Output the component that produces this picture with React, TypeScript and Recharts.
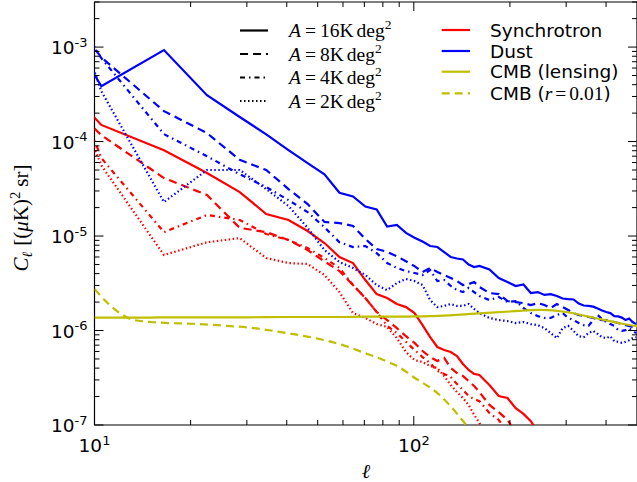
import { LineChart, Line, XAxis, YAxis, ReferenceArea } from 'recharts';

document.body.style.margin = '0';

// multipole bins (first one sits left of the axis and only sets the clipped slope)
const ell = [4.5, 10.5, 16.5, 22.5, 28.5, 34.5, 40.5, 46.5, 52.5, 58.5, 64.5, 70.5, 76.5, 82.5, 88.5, 94.5,
  100.5, 106.5, 112.5, 118.5, 124.5, 130.5, 136.5, 142.5, 148.5, 154.5, 160.5, 172.5, 184.5, 196.5, 208.5,
  220.5, 232.5, 244.5, 256.5, 268.5, 280.5, 292.5, 304.5, 316.5, 328.5, 340.5, 352.5, 364.5, 376.5, 388.5,
  400.5, 412.5, 424.5, 436.5, 448.5, 460.5, 472.5, 484.5, 496.5];

const dust16 = [0.047, 3.86e-4, 9.3e-4, 3.1e-4, 1.82e-4, 1.19e-4, 8.1e-5, 5.9e-5, 4.5e-5, 2.87e-5,
  2.62e-5, 2.05e-5, 1.91e-5, 1.26e-5, 1.31e-5, 1.08e-5, 9.6e-6, 8.75e-6, 7.84e-6, 7.65e-6,
  6.77e-6, 6.0e-6, 5.78e-6, 5.64e-6, 4.99e-6, 4.7e-6, 4.82e-6,
  4.42e-6, 3.6e-6, 3.26e-6, 2.96e-6, 3.07e-6, 2.49e-6, 2.55e-6, 2.38e-6, 2.43e-6, 2.32e-6,
  2.18e-6, 2.15e-6, 2.13e-6, 1.93e-6, 1.84e-6, 1.82e-6, 1.79e-6, 1.71e-6, 1.63e-6, 1.57e-6,
  1.53e-6, 1.42e-6, 1.41e-6, 1.37e-6, 1.29e-6, 1.34e-6, 1.23e-6, 1.17e-6];
const dust8 = [0.031, 7.8e-4, 2.1e-4, 1.23e-4, 6.4e-5, 5.0e-5, 3.14e-5, 2.18e-5, 1.41e-5, 1.37e-5,
  1.28e-5, 9.3e-6, 7.3e-6, 6.8e-6, 6.1e-6, 5.4e-6, 4.8e-6, 4.16e-6, 4.6e-6, 4.16e-6,
  3.87e-6, 3.6e-6, 3.34e-6, 3.03e-6, 3.1e-6, 3.26e-6, 2.89e-6,
  2.49e-6, 2.43e-6, 2.05e-6, 2.0e-6, 1.95e-6, 1.86e-6, 1.95e-6, 1.86e-6, 1.73e-6, 1.91e-6,
  1.77e-6, 1.65e-6, 1.53e-6, 1.46e-6, 1.42e-6, 1.39e-6, 1.36e-6, 1.32e-6, 1.29e-6, 1.29e-6,
  1.26e-6, 1.23e-6, 1.2e-6, 1.17e-6, 1.14e-6, 1.12e-6, 1.09e-6, 1.04e-6];
const dust4 = [0.072, 7.65e-4, 1.2e-4, 7.0e-5, 4.5e-5, 3.3e-5, 2.4e-5, 1.79e-5, 1.24e-5, 8.6e-6,
  7.65e-6, 7.84e-6, 6.6e-6, 5.18e-6, 4.6e-6, 4.26e-6, 4.06e-6, 3.87e-6, 4.37e-6, 3.34e-6,
  3.42e-6, 2.96e-6, 2.68e-6, 2.55e-6, 2.82e-6, 2.55e-6, 2.32e-6,
  2.1e-6, 2.26e-6, 2.0e-6, 2.05e-6, 1.73e-6, 1.53e-6, 1.42e-6, 1.36e-6, 1.36e-6, 1.46e-6,
  1.53e-6, 1.36e-6, 1.29e-6, 1.2e-6, 1.14e-6, 1.12e-6, 1.29e-6, 1.46e-6, 1.32e-6, 1.23e-6,
  1.17e-6, 1.12e-6, 1.01e-6, 9.9e-7, 1.01e-6, 1.06e-6, 9.9e-7, 9.4e-7];
const dust2 = [1.5, 3.42e-4, 2.29e-5, 5.0e-5, 5.0e-5, 3.14e-5, 2.08e-5, 1.22e-5, 7.1e-6, 5.3e-6,
  4.6e-6, 3.87e-6, 3.03e-6, 2.68e-6, 3.18e-6, 3.51e-6, 3.34e-6, 3.03e-6, 2.1e-6, 1.77e-6,
  1.82e-6, 1.91e-6, 1.82e-6, 1.82e-6, 1.91e-6, 1.69e-6, 1.53e-6,
  1.36e-6, 1.29e-6, 1.26e-6, 1.2e-6, 1.23e-6, 1.17e-6, 1.14e-6, 1.06e-6, 9.4e-7, 8.3e-7,
  1.06e-6, 1.12e-6, 9.9e-7, 8.7e-7, 8.5e-7, 9.4e-7, 9.9e-7, 9.2e-7, 8.5e-7, 8.3e-7,
  8.7e-7, 7.7e-7, 7.6e-7, 7.4e-7, 7.6e-7, 7.9e-7, 8.3e-7, 8.5e-7];

const sync16 = [3.2e-3, 1.5e-4, 8.1e-5, 4.64e-5, 2.92e-5, 1.71e-5, 1.48e-5, 1.13e-5, 8.43e-6, 6.0e-6,
  5.18e-6, 3.42e-6, 2.43e-6, 2.21e-6, 1.91e-6, 1.77e-6, 1.53e-6, 1.14e-6, 8.5e-7, 6.69e-7,
  6.22e-7, 5.92e-7, 5.37e-7, 4.42e-7, 3.82e-7, 3.47e-7, 3.38e-7,
  2.65e-7, 2.03e-7, 1.93e-7, 1.51e-7, 1.31e-7, 1.1e-7, 8.4e-8];
const sync8 = [2.0e-3, 1.17e-4, 4.11e-5, 2.72e-5, 1.22e-5, 1.1e-5, 9.07e-6, 7.1e-6, 5.4e-6, 4.26e-6,
  3.03e-6, 2.21e-6, 1.57e-6, 1.29e-6, 1.06e-6, 8.7e-7, 7.4e-7, 6.07e-7, 5.24e-7, 4.76e-7,
  5.12e-7, 4.01e-7, 3.55e-7, 3.3e-7, 2.92e-7, 2.59e-7, 2.23e-7,
  1.63e-7, 1.37e-7, 1.13e-7, 8.4e-8];
const sync4 = [0.13, 6.7e-5, 1.1e-5, 1.67e-5, 1.48e-5, 1.05e-5, 9.07e-6, 7.46e-6, 5.85e-6, 4.6e-6,
  3.03e-6, 2.21e-6, 1.57e-6, 1.12e-6, 9.4e-7, 7.6e-7, 6.22e-7, 5.24e-7, 4.53e-7, 3.73e-7,
  3.47e-7, 3.22e-7, 2.72e-7, 2.35e-7, 2.03e-7, 1.88e-7, 1.79e-7,
  1.34e-7, 1.13e-7, 8.4e-8];
const sync2 = [0.071, 5.6e-5, 6.3e-6, 8.6e-6, 9.5e-6, 5.85e-6, 5.18e-6, 5.06e-6, 3.87e-6, 2.55e-6,
  1.53e-6, 1.36e-6, 1.17e-6, 1.09e-6, 8.3e-7, 5.92e-7, 4.87e-7, 4.64e-7, 4.21e-7, 4.01e-7,
  3.3e-7, 2.65e-7, 2.23e-7, 1.93e-7, 1.63e-7, 1.28e-7, 1.05e-7,
  6.9e-8];

// CMB spectra (smooth, finer sampling)
const cmbEll = [10, 11, 12, 13, 14, 15, 17, 20, 25, 30, 40, 50, 60, 70, 80, 90, 100, 120, 140, 160,
  200, 250, 300, 350, 400, 450, 500];
const cmbLensing = [1.37e-6, 1.37e-6, 1.37e-6, 1.37e-6, 1.37e-6, 1.37e-6, 1.38e-6, 1.38e-6, 1.38e-6, 1.38e-6,
  1.39e-6, 1.39e-6, 1.39e-6, 1.4e-6, 1.4e-6, 1.4e-6, 1.41e-6, 1.43e-6, 1.47e-6, 1.52e-6,
  1.59e-6, 1.65e-6, 1.57e-6, 1.41e-6, 1.28e-6, 1.18e-6, 1.11e-6];
const cmbTensor = [2.75e-6, 1.95e-6, 1.53e-6, 1.32e-6, 1.26e-6, 1.23e-6, 1.2e-6, 1.18e-6, 1.13e-6, 1.08e-6,
  9.4e-7, 8.2e-7, 7.0e-7, 5.8e-7, 4.9e-7, 4.1e-7, 3.2e-7, 2.1e-7, 1.19e-7, 6.5e-8];

const yMajor = [1e-7, 1e-6, 1e-5, 1e-4, 1e-3];
const yMajorLabels = ['-7', '-6', '-5', '-4', '-3'];
const xMajor = [10, 100];
const xMajorLabels = ['1', '2'];
const minorMantissa = [2, 3, 4, 5, 6, 7, 8, 9];

const areaLabels = ['16', '8', '4', '2'];
const styleDash = ['', '8 5', '5 4 1.5 4', '1.5 2.5'];

const yTicks = yMajor.flatMap((m) => [m, ...minorMantissa.map((k) => k * m)]).filter((v) => v <= 3.01e-3);
const xTicks = [...xMajor.flatMap((m) => [m, ...minorMantissa.map((k) => k * m)]).filter((v) => v <= 400)];

const L = 94.5, R = 637, T = 2, B = 425;
const RED = '#ff0000', BLUE = '#0000ff', YEL = '#bfbf00';
const LW = 2.2;

const pairs = (xs: number[], vs: number[]) => vs.map((v, i) => ({ ell: xs[i], v }));

const isMajor = (v: number) => Math.abs(Math.log10(v) - Math.round(Math.log10(v))) < 1e-6;

const YTick = ({ y, payload }: any) => {
  const v = payload.value;
  const major = isMajor(v);
  const len = major ? 9 : 5;
  const idx = yMajor.findIndex((m) => Math.abs(m - v) / m < 1e-6);
  return (
    <g>
      <line x1={L} x2={L + len} y1={y} y2={y} stroke="#000" strokeWidth={1} />
      <line x1={R - len} x2={R} y1={y} y2={y} stroke="#000" strokeWidth={1} />
      {major && (
        <text x={87.5} y={y + 7} textAnchor="end" fontFamily="DejaVu Sans" fontSize={18.5} fill="#000">
          10<tspan dy={-7.5} fontSize={13}>{yMajorLabels[idx]}</tspan>
        </text>
      )}
    </g>
  );
};

const XTick = ({ x, payload }: any) => {
  const v = payload.value;
  const major = isMajor(v);
  const len = major ? 9 : 5;
  const idx = xMajor.indexOf(v);
  return (
    <g>
      <line x1={x} x2={x} y1={B - len} y2={B} stroke="#000" strokeWidth={1} />
      <line x1={x} x2={x} y1={T} y2={T + len} stroke="#000" strokeWidth={1} />
      {major && (
        <text x={x} y={452} textAnchor="middle" fontFamily="DejaVu Sans" fontSize={18.5} fill="#000">
          10<tspan dy={-7} fontSize={13}>{xMajorLabels[idx]}</tspan>
        </text>
      )}
    </g>
  );
};

const line = (key: string, data: any[], color: string, dash: string, smooth = false) => (
  <Line
    key={key}
    data={data}
    dataKey="v"
    type={smooth ? 'monotone' : 'linear'}
    stroke={color}
    strokeWidth={LW}
    strokeDasharray={dash || undefined}
    dot={false}
    activeDot={false}
    isAnimationActive={false}
  />
);

const syncSeries = [sync16, sync8, sync4, sync2];
const dustSeries = [dust16, dust8, dust4, dust2];

const App = () => {
  const rowsA = [30.5, 54, 77.5, 101];
  const rowsB = [30, 51, 71.7, 93.3];
  return (
    <div style={{ position: 'relative', width: 637, height: 482, background: '#fff' }}>
      <LineChart width={637} height={482} margin={{ top: T, right: 0, bottom: 0, left: 0 }}>
        <XAxis
          dataKey="ell"
          type="number"
          scale="log"
          domain={[10, 500]}
          allowDataOverflow
          ticks={xTicks}
          interval={0}
          height={57}
          axisLine={false}
          tickLine={false}
          tick={<XTick />}
        />
        <YAxis
          type="number"
          scale="log"
          domain={[1e-7, 3e-3]}
          allowDataOverflow
          ticks={yTicks}
          interval={0}
          width={L}
          axisLine={false}
          tickLine={false}
          tick={<YTick />}
        />
        {syncSeries.map((s, i) => line('s' + i, pairs(ell, s), RED, styleDash[i]))}
        {dustSeries.map((s, i) => line('d' + i, pairs(ell, s), BLUE, styleDash[i]))}
        {line('lens', pairs(cmbEll, cmbLensing), YEL, '', true)}
        {line('tens', pairs(cmbEll, cmbTensor), YEL, '8 5', true)}
        <ReferenceArea x1={10} x2={500} y1={1e-7} y2={3e-3} fill="none" stroke="#000" strokeWidth={1.2} ifOverflow="visible" />
      </LineChart>
      <svg width={637} height={482} style={{ position: 'absolute', left: 0, top: 0, pointerEvents: 'none' }}>
        {areaLabels.map((a, i) => (
          <g key={a}>
            <line x1={240} x2={268} y1={rowsA[i]} y2={rowsA[i]} stroke="#000" strokeWidth={LW} strokeDasharray={styleDash[i] || undefined} />
            <text x={289} y={rowsA[i] + 6.5} fontFamily="Liberation Serif" fontSize={19.5} fill="#000">
              <tspan fontStyle="italic">A</tspan>
              <tspan dx={4}>=</tspan>
              <tspan dx={4}>{a}K</tspan>
              <tspan dx={3}>deg</tspan>
              <tspan dy={-8} fontSize={13.5}>2</tspan>
            </text>
          </g>
        ))}
        {[RED, BLUE, YEL, YEL].map((c, i) => (
          <line key={i} x1={441.7} x2={470} y1={rowsB[i]} y2={rowsB[i]} stroke={c} strokeWidth={LW} strokeDasharray={i === 3 ? '8 5' : undefined} />
        ))}
        <g fontFamily="DejaVu Sans" fontSize={18.5} fill="#000">
          <text x={490} y={rowsB[0] + 6.7}>Synchrotron</text>
          <text x={490} y={rowsB[1] + 6.7}>Dust</text>
          <text x={490} y={rowsB[2] + 6.7}>CMB (lensing)</text>
          <text x={490} y={rowsB[3] + 6.7}>
            CMB (<tspan fontFamily="Liberation Serif" fontStyle="italic" fontSize={19.5}>r</tspan>
            <tspan fontFamily="Liberation Serif" fontSize={19.5} dx={3}>=</tspan>
            <tspan fontFamily="Liberation Serif" fontSize={19.5} dx={3}>0.01</tspan>)
          </text>
        </g>
        <text x={366} y={478} textAnchor="middle" fontFamily="DejaVu Serif" fontStyle="italic" fontSize={20} fill="#000">ℓ</text>
        <text transform="translate(28,218) rotate(-90)" textAnchor="middle" fontFamily="Liberation Serif" fontSize={21} fill="#000">
          <tspan fontStyle="italic">C</tspan>
          <tspan fontFamily="DejaVu Serif" fontStyle="italic" fontSize={14} dy={4}>ℓ</tspan>
          <tspan dy={-4} dx={6}>[(</tspan>
          <tspan fontStyle="italic">μ</tspan>
          <tspan>K)</tspan>
          <tspan dy={-8} fontSize={14.5}>2</tspan>
          <tspan dy={8} dx={5}>sr]</tspan>
        </text>
      </svg>
    </div>
  );
};

export default App;
